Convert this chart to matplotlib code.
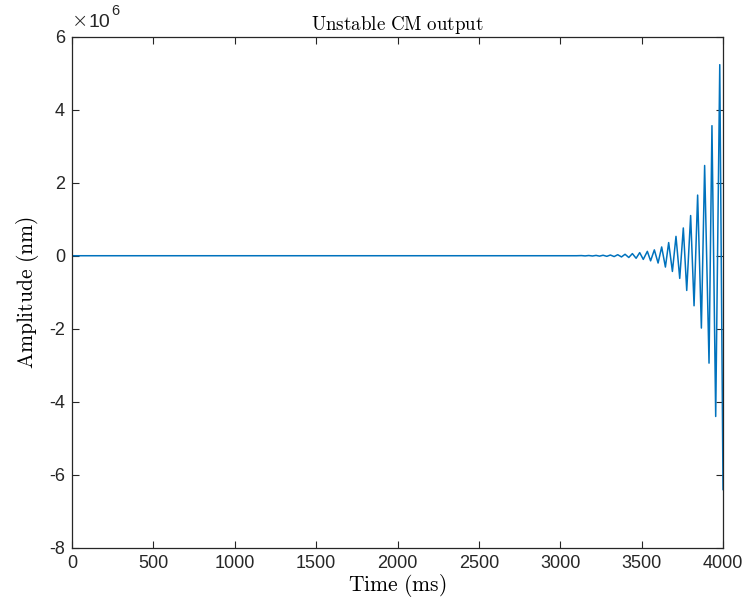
import matplotlib

matplotlib.use('Agg')

import matplotlib.pyplot as plt

# time (ms) of turning points of the response
t_ms = [0, 3100, 3130, 3153, 3175, 3198, 3220, 3241, 3263, 3286, 3308, 3331,
        3353, 3376, 3398, 3421, 3443, 3466, 3488, 3510, 3535, 3555, 3578,
        3601, 3623, 3646, 3666, 3689, 3711, 3734, 3756, 3777, 3801, 3822,
        3844, 3867, 3887, 3914, 3932, 3955, 3980, 4000]
# amplitude at those points (nm)
amp_nm = [0, 0, 4e3, -5e3, 6e3, -7e3, 9e3, -11e3, 13e3, -16e3, 19e3, -23e3,
          28e3, -33e3, 40e3, -48e3, 58e3, -70e3, 85e3, -100e3, 120e3, -140e3,
          160e3, -200e3, 240e3, -310e3, 360e3, -430e3, 530e3, -620e3, 760e3,
          -950e3, 1.10e6, -1.37e6, 1.66e6, -1.98e6, 2.47e6, -2.94e6, 3.56e6,
          -4.40e6, 5.23e6, -6.40e6]

xticks = [0, 500, 1000, 1500, 2000, 2500, 3000, 3500, 4000]
yticks = [-8e6, -6e6, -4e6, -2e6, 0, 2e6, 4e6, 6e6]
ytick_labels = ['-8', '-6', '-4', '-2', '0', '2', '4', '6']


def main():
    plt.rcParams['mathtext.fontset'] = 'cm'
    plt.rcParams['font.family'] = 'Liberation Sans'
    dark = '#262626'

    fig = plt.figure(figsize=(7.47, 6.14), dpi=100)
    ax = fig.add_axes([0.0964, 0.1075, 0.8715, 0.833])

    ax.plot(t_ms, amp_nm, color='#0072BD', lw=1.1)

    ax.set_xlim(0, 4000)
    ax.set_ylim(-8e6, 6e6)
    ax.set_xticks(xticks)
    ax.set_yticks(yticks)
    ax.set_yticklabels(ytick_labels)
    ax.tick_params(direction='in', top=True, right=True, length=5,
                   width=0.8, colors=dark, labelsize=13, pad=5)
    for s in ax.spines.values():
        s.set_color(dark)
        s.set_linewidth(0.9)

    ax.set_title(r'$\mathrm{Unstable\ CM\ output}$', fontsize=13.7, pad=5)
    ax.set_xlabel(r'$\mathrm{Time\ (ms)}$', fontsize=15.5, labelpad=0)
    ax.set_ylabel(r'$\mathrm{Amplitude\ (nm)}$', fontsize=15.5, labelpad=6)

    # exponent marker, MATLAB style
    ax.text(0.0, 1.01, '\u00d7', transform=ax.transAxes, fontsize=14,
            color=dark, ha='left', va='bottom', family='DejaVu Sans',
            fontweight='light')
    ax.text(0.0255, 1.01, '10', transform=ax.transAxes, fontsize=14,
            color=dark, ha='left', va='bottom')
    ax.text(0.061, 1.036, '6', transform=ax.transAxes, fontsize=10.5,
            color=dark, ha='left', va='bottom')

    fig.savefig('out.png', dpi=100)


if __name__ == '__main__':
    main()
